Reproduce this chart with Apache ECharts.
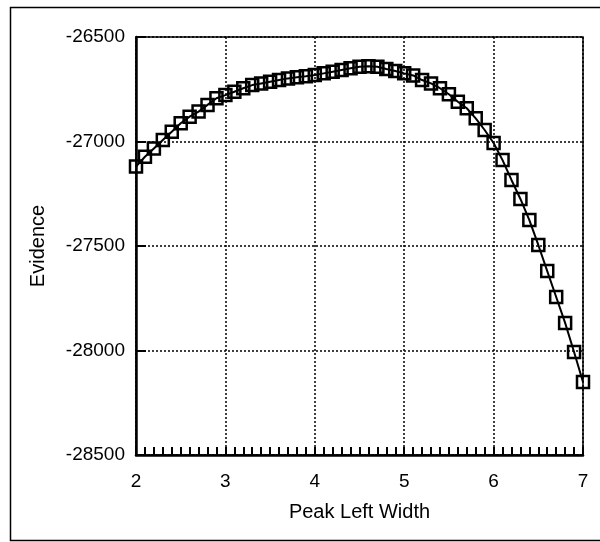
<!DOCTYPE html>
<html>
<head>
<meta charset="utf-8">
<script src="https://cdn.jsdelivr.net/npm/echarts@6/dist/echarts.min.js"></script>
<style>html,body{margin:0;padding:0;background:#fff;}#c{width:600px;height:542px;}</style>
</head>
<body>
<div id="c"></div>
<script>
var peakLeftWidth = [2.0,2.1,2.2,2.3,2.4,2.5,2.6,2.7,2.8,2.9,
  3.0,3.1,3.2,3.3,3.4,3.5,3.6,3.7,3.8,3.9,
  4.0,4.1,4.2,4.3,4.4,4.5,4.6,4.7,4.8,4.9,
  5.0,5.1,5.2,5.3,5.4,5.5,5.6,5.7,5.8,5.9,
  6.0,6.1,6.2,6.3,6.4,6.5,6.6,6.7,6.8,6.9,7.0];
var evidence = [-27120,-27073,-27033,-26993,-26953,-26913,-26881,-26857,-26825,-26793,
  -26778,-26762,-26745,-26730,-26722,-26714,-26706,-26698,-26693,-26688,
  -26682,-26674,-26666,-26658,-26650,-26642,-26640,-26642,-26653,-26663,
  -26674,-26684,-26706,-26722,-26745,-26774,-26810,-26841,-26889,-26945,
  -27007,-27089,-27184,-27275,-27376,-27495,-27620,-27744,-27868,-28007,-28151];
var xAxisName = 'Peak Left Width';
var yAxisName = 'Evidence';

var pts = peakLeftWidth.map(function(x, i){ return [x, evidence[i]]; });
var chart = echarts.init(document.getElementById('c'), null, {renderer:'canvas'});
var font = 'Liberation Sans, Arial, Helvetica, sans-serif';
chart.setOption({
  animation: false,
  backgroundColor: '#fff',
  graphic: [{
    type: 'rect', z: 100, silent: true,
    shape: {x: 10.5, y: 7.5, width: 620, height: 533},
    style: {fill: 'none', stroke: '#000', lineWidth: 1.5}
  }],
  grid: {left: 136, right: 17, top: 37, bottom: 87, show: true, borderColor: '#000', borderWidth: 1.5, backgroundColor: 'transparent'},
  xAxis: {
    type: 'value', min: 2, max: 7, interval: 1,
    name: xAxisName, nameLocation: 'middle', nameGap: 47,
    nameTextStyle: {color: '#000', fontSize: 20, fontFamily: font},
    axisLine: {show: true, onZero: false, lineStyle: {color: '#000', width: 2.5}},
    axisTick: {show: true, inside: true, length: 8, lineStyle: {color: '#000', width: 2}},
    minorTick: {show: true, splitNumber: 10, length: 8, lineStyle: {color: '#000', width: 2}},
    axisLabel: {color: '#000', fontSize: 19, fontFamily: font, margin: 17},
    splitLine: {show: true, lineStyle: {color: '#000', width: 1.5, type: [2, 2]}}
  },
  yAxis: {
    type: 'value', min: -28500, max: -26500, interval: 500,
    name: yAxisName, nameLocation: 'middle', nameGap: 88,
    nameTextStyle: {color: '#000', fontSize: 20, fontFamily: font},
    axisLine: {show: true, onZero: false, lineStyle: {color: '#000', width: 2.5}},
    axisTick: {show: true, inside: true, length: 10, lineStyle: {color: '#000', width: 2}},
    axisLabel: {color: '#000', fontSize: 19, fontFamily: font, margin: 11,
      formatter: function(v){ return String(v); }},
    splitLine: {show: true, lineStyle: {color: '#000', width: 1.5, type: [2, 2]}}
  },
  series: [{
    type: 'line', data: pts, symbol: 'rect', symbolSize: 12,
    showAllSymbol: true, clip: false,
    lineStyle: {color: '#000', width: 2},
    itemStyle: {color: 'rgba(0,0,0,0)', borderColor: '#000', borderWidth: 2.5}
  }]
});
</script>
</body>
</html>
